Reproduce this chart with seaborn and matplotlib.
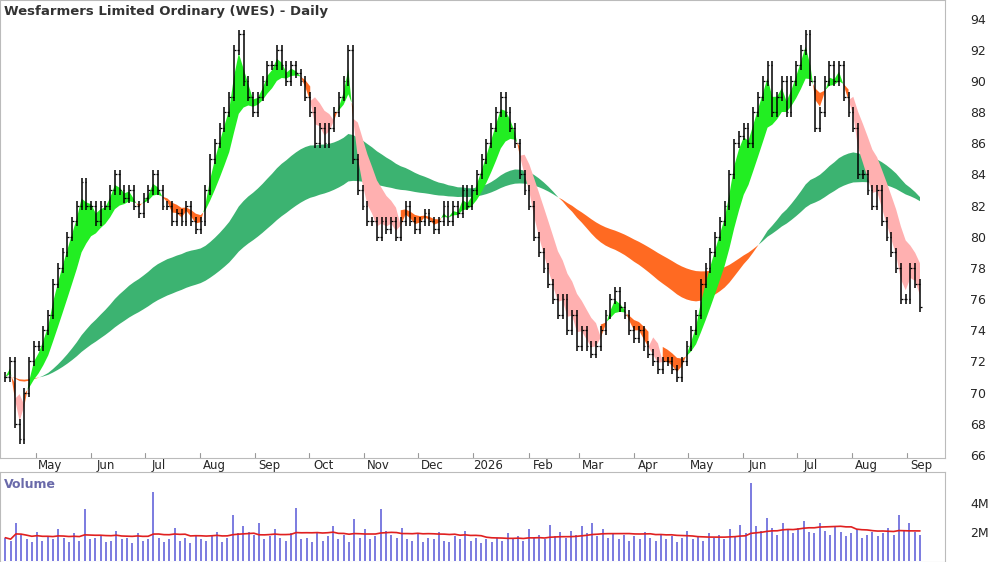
import numpy as np
import pandas as pd
import matplotlib
matplotlib.use("Agg")
import matplotlib.pyplot as plt
import seaborn as sns

# ---- data (approx. every 2 trading days) ----
closes = [
    71, 72, 68, 67, 70, 72, 73, 73, 74,
    75, 77, 78, 79, 80, 81, 82, 83.5, 82, 82, 81, 82,
    82, 83, 84, 83, 82.5, 83, 82, 81.5, 82.5, 83,
    84, 83, 82, 82, 81, 81.5, 81, 82, 81, 80.5, 81,
    83, 85, 86, 87, 88, 89, 92, 93, 90, 89, 88,
    89, 90, 91, 91, 92, 91, 90, 91, 90.5, 90, 89,
    88, 86, 87, 86, 87, 88, 89, 90, 92,
    85, 83, 82, 81, 81, 80, 81, 80.5, 81, 80, 81, 82, 81, 80.5,
    81, 81.5, 81, 80.5, 81, 82, 81,
    82, 81.5, 83, 82, 83, 84, 85, 86, 87, 88, 89,
    88, 87, 86, 84, 83, 82, 80, 79, 78, 77, 76,
    75, 76, 74, 75, 73, 74, 73, 72.5, 73, 74, 75,
    76, 76.5, 75.5, 75, 74, 73.5, 74, 73, 72.5, 72, 71.5, 72, 72,
    71.5, 71, 72, 73, 74, 75, 77,
    78, 79, 80, 81, 82, 84, 86, 86.5, 87, 86, 88, 89, 90, 91,
    88, 89, 90, 88, 90, 91, 92, 93, 90, 87,
    88, 90, 91, 90, 91, 89, 88, 87, 84,
    84, 83, 82, 83, 81, 80, 79, 78, 76, 76, 78, 77, 75.5,
]
volume_m = [
    1.6, 1.4, 2.6, 1.8, 1.5, 1.3, 2.0, 1.4, 1.7, 1.5, 2.2, 1.6, 1.3, 1.9, 1.4,
    3.6, 1.5, 1.6, 1.8, 1.3, 1.4, 2.1, 1.5, 1.6, 1.2, 1.9, 1.4, 1.5, 4.8, 1.6,
    1.3, 1.5, 2.3, 1.4, 1.6, 1.2, 1.8, 1.5, 1.4, 1.7, 2.0, 1.3, 1.6, 3.2, 1.9,
    2.4, 2.0, 1.8, 2.6, 1.5, 1.7, 2.2, 1.6, 1.4, 1.9, 3.7, 1.5, 1.6, 1.3, 2.0,
    1.4, 1.7, 2.4, 1.5, 1.8, 1.3, 2.9, 1.6, 2.2, 1.5, 1.7, 3.6, 2.1, 1.8, 1.6,
    2.3, 1.5, 1.4, 1.9, 1.3, 1.6, 1.5, 2.0, 1.4, 1.3, 1.7, 1.5, 2.1, 1.4, 1.6,
    1.2, 1.5, 1.3, 1.6, 1.4, 1.9, 1.5, 1.7, 1.4, 2.2, 1.6, 1.8, 1.5, 2.5, 1.7,
    2.0, 1.6, 2.1, 1.8, 2.4, 1.9, 2.6, 1.7, 2.2, 1.6, 1.9, 1.5, 1.8, 1.4, 1.7,
    1.5, 2.0, 1.6, 1.4, 1.8, 1.5, 1.7, 1.3, 1.6, 2.1, 1.5, 1.7, 1.4, 1.9, 1.6,
    1.8, 1.5, 2.2, 1.7, 2.5, 1.9, 5.4, 2.4, 2.1, 3.0, 2.3, 1.8, 2.6, 2.2, 1.9,
    2.3, 2.8, 2.0, 1.9, 2.6, 2.1, 1.8, 2.4, 2.0, 1.7, 1.9, 2.2, 1.6, 1.8, 2.0,
    1.7, 1.9, 2.3, 1.8, 3.2, 2.1, 2.6, 2.0, 1.8,
]
month_labels = ["May", "Jun", "Jul", "Aug", "Sep", "Oct", "Nov", "Dec", "2026",
                "Feb", "Mar", "Apr", "May", "Jun", "Jul", "Aug", "Sep"]
month_starts = pd.date_range("2025-05-01", "2026-09-01", freq="MS")
price_ticks = list(range(66, 95, 2))

start, end = pd.Timestamp("2025-04-14"), pd.Timestamp("2026-09-08")
dates = pd.date_range(start, end, periods=len(closes))
vdates = pd.date_range(start, end, periods=len(volume_m))

s = pd.Series(closes, index=dates)
opens = s.shift(1).fillna(s.iloc[0])
wick = 0.3
highs = np.maximum(opens, s) + wick
lows = np.minimum(opens, s) - wick

# GMMA-style ribbons (spans in trading days, ~1.9 trading days per point)
k = 1.9
ema = lambda n: s.ewm(span=max(n / k, 1.0), adjust=False).mean()
s_fast, s_slow = ema(5), ema(18)
l_fast, l_slow = ema(85), ema(150)

sns.set_style("white")
plt.rcParams["font.family"] = ["DejaVu Sans"]
fig = plt.figure(figsize=(10, 5.62), dpi=100)
ax = fig.add_axes([0.0, 1 - 458 / 562, 0.945, 458 / 562])
axv = fig.add_axes([0.0, 0.0, 0.945, 90 / 562], sharex=ax)

# long ribbon
up = (l_fast >= l_slow).values
ax.fill_between(dates, l_fast, l_slow, where=up, color="#3cb371", lw=0, interpolate=True)
ax.fill_between(dates, l_fast, l_slow, where=~up, color="#ff6a22", lw=0, interpolate=True)
# short ribbon: lime rising, orange when flat-ish falling, pink when strongly falling
up = (s_fast >= s_slow).values
wide = ((s_slow - s_fast) > 1.0).values
ax.fill_between(dates, s_fast, s_slow, where=up, color="#22ee22", lw=0, interpolate=True)
ax.fill_between(dates, s_fast, s_slow, where=~up & ~wide, color="#ff6a22", lw=0, interpolate=True)
ax.fill_between(dates, s_fast, s_slow, where=~up & wide, color="#ffb0b0", lw=0, interpolate=True)

# OHLC bars
dx = pd.Timedelta(days=1.0)
ax.vlines(dates, lows, highs, color="black", lw=1.1)
ax.hlines(opens, dates - dx, dates, color="black", lw=0.9)
ax.hlines(s, dates, dates + dx, color="black", lw=0.9)

ax.set_xlim(start - pd.Timedelta(days=3), pd.Timestamp("2026-09-22"))
ax.set_ylim(65.8, 95.2)
ax.yaxis.tick_right()
ax.set_yticks(price_ticks)
ax.tick_params(axis="y", labelsize=9, length=0, pad=18)
ax.set_xticks(month_starts + pd.Timedelta(days=8))
ax.set_xticklabels(month_labels, fontsize=8.5)
ax.tick_params(axis="x", length=0, pad=1)
for m in month_starts:
    ax.axvline(m, ymin=0, ymax=0.012, color="#999999", lw=0.8)
for sp in ax.spines.values():
    sp.set_color("#bbbbbb")
ax.text(0.004, 0.99, "Wesfarmers Limited Ordinary (WES) - Daily", transform=ax.transAxes,
        fontsize=9.5, fontweight="bold", color="#333333", va="top")

# volume
vs = pd.Series(volume_m, index=vdates)
axv.vlines(vdates, 0, vs, color="#7b7be0", lw=1.4)
axv.plot(vdates, vs.rolling(20, min_periods=1).mean(), color="#e02020", lw=1.2)
axv.set_ylim(-0.1, 6.2)
axv.yaxis.tick_right()
axv.set_yticks([2, 4])
axv.set_yticklabels(["2M", "4M"])
axv.tick_params(axis="y", labelsize=9, length=0, pad=18)
axv.tick_params(axis="x", labelbottom=False, length=0)
for sp in axv.spines.values():
    sp.set_color("#bbbbbb")
axv.text(0.004, 0.93, "Volume", transform=axv.transAxes, fontsize=9,
         fontweight="bold", color="#6a6aaa", va="top")

fig.savefig("out.png", dpi=100)
